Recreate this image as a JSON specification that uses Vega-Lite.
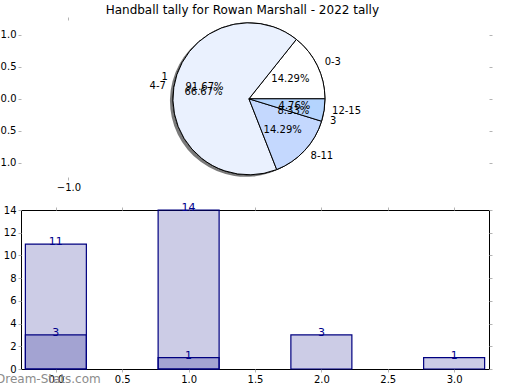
{
  "$schema": "https://vega.github.io/schema/vega-lite/v6.json",
  "padding": {"left": -9, "top": 3, "right": 0, "bottom": 0},
  "bounds": "flush",
  "spacing": 33,
  "title": {"text": "Handball tally for Rowan Marshall - 2022 tally", "font": "DejaVu Sans", "fontSize": 12, "fontWeight": "normal", "color": "#000000", "offset": 0, "anchor": "middle"},
  "config": {
    "font": "DejaVu Sans",
    "axis": {"labelFont": "DejaVu Sans", "labelFontSize": 10, "labelColor": "#000000", "tickColor": "#b4b4b4", "tickSize": 3, "domain": false, "grid": false, "title": null},
    "text": {"font": "DejaVu Sans", "fontSize": 10}
  },
  "vconcat": [
    {
      "width": 468,
      "height": 157,
      "view": {"stroke": null},
      "resolve": {"scale": {"theta": "independent", "color": "independent"}, "axis": {"x": "independent", "y": "independent"}},
      "layer": [
        {
          "data": {"values": [
            {"label": "1", "v": 11, "pct": "91.67%", "i": 0},
            {"label": "3", "v": 1, "pct": "8.33%", "i": 1}
          ]},
          "encoding": {
            "x": {"datum": 0, "type": "quantitative", "scale": {"domain": [-1.263, 1.33], "nice": false, "zero": false}, "axis": {"orient": "bottom", "values": [-1], "format": ".1f", "title": null}},
            "y": {"datum": 0, "type": "quantitative", "scale": {"domain": [-1.22, 1.23], "nice": false, "zero": false}, "axis": {"orient": "left", "values": [-1, -0.5, 0, 0.5, 1], "format": ".1f", "title": null}},
            "theta": {"field": "v", "type": "quantitative", "stack": true, "scale": {"range": [1.5708, -4.7124]}},
            "order": {"field": "i", "type": "quantitative"},
            "detail": {"field": "label", "type": "nominal"}
          },
          "layer": [
            {"mark": {"type": "arc", "outerRadius": 76, "xOffset": -3, "yOffset": 2, "opacity": 0.75}, "encoding": {"color": {"value": "#4d4d4d"}}},
            {"mark": {"type": "arc", "outerRadius": 76, "stroke": "#000000", "strokeWidth": 1}, "encoding": {"color": {"field": "label", "type": "nominal", "scale": {"domain": ["1", "3"], "range": ["#eaf2fe", "#b4d4fe"]}, "legend": null}}}
          ]
        },
        {
          "data": {"values": [
            {"label": "0-3", "v": 3, "pct": "14.29%", "i": 0},
            {"label": "4-7", "v": 14, "pct": "66.67%", "i": 1},
            {"label": "8-11", "v": 3, "pct": "14.29%", "i": 2},
            {"label": "12-15", "v": 1, "pct": "4.76%", "i": 3}
          ]},
          "encoding": {
            "x": {"datum": 0, "type": "quantitative", "scale": {"domain": [-1.263, 1.33], "nice": false, "zero": false}, "axis": {"orient": "top", "values": [-1], "labels": false, "title": null}},
            "y": {"datum": 0, "type": "quantitative", "scale": {"domain": [-1.22, 1.23], "nice": false, "zero": false}, "axis": {"orient": "right", "values": [-1, -0.5, 0, 0.5, 1], "labels": false, "title": null}},
            "theta": {"field": "v", "type": "quantitative", "stack": true, "scale": {"range": [1.5708, -4.7124]}},
            "order": {"field": "i", "type": "quantitative"},
            "detail": {"field": "label", "type": "nominal"}
          },
          "layer": [
            {"mark": {"type": "arc", "outerRadius": 76, "stroke": "#000000", "strokeWidth": 1}, "encoding": {"color": {"field": "label", "type": "nominal", "scale": {"domain": ["0-3", "4-7", "8-11", "12-15"], "range": ["#ffffff", "#eaf1fe", "#c4d8fe", "#b4d4fe"]}, "legend": null}}}
          ]
        },
        {
          "data": {"values": [
            {"label": "1", "v": 11, "pct": "91.67%", "i": 0},
            {"label": "3", "v": 1, "pct": "8.33%", "i": 1}
          ]},
          "encoding": {
            "x": {"datum": 0, "type": "quantitative", "scale": {"domain": [-1.263, 1.33], "nice": false, "zero": false}, "axis": null},
            "y": {"datum": 0, "type": "quantitative", "scale": {"domain": [-1.22, 1.23], "nice": false, "zero": false}, "axis": null},
            "theta": {"field": "v", "type": "quantitative", "stack": true, "scale": {"range": [1.5708, -4.7124]}},
            "order": {"field": "i", "type": "quantitative"},
            "detail": {"field": "label", "type": "nominal"},
            "color": {"value": "#000000"}
          },
          "layer": [
            {"mark": {"type": "text", "radius": 46, "align": "center", "baseline": "middle"}, "encoding": {"text": {"field": "pct", "type": "nominal"}}},
            {"mark": {"type": "text", "radius": 84, "align": "left", "baseline": "middle"}, "encoding": {"text": {"condition": {"test": "datum.label !== '1'", "field": "label", "type": "nominal"}, "value": ""}}},
            {"mark": {"type": "text", "radius": 84, "align": "right", "baseline": "middle"}, "encoding": {"text": {"condition": {"test": "datum.label === '1'", "field": "label", "type": "nominal"}, "value": ""}}}
          ]
        },
        {
          "data": {"values": [
            {"label": "0-3", "v": 3, "pct": "14.29%", "i": 0},
            {"label": "4-7", "v": 14, "pct": "66.67%", "i": 1},
            {"label": "8-11", "v": 3, "pct": "14.29%", "i": 2},
            {"label": "12-15", "v": 1, "pct": "4.76%", "i": 3}
          ]},
          "encoding": {
            "x": {"datum": 0, "type": "quantitative", "scale": {"domain": [-1.263, 1.33], "nice": false, "zero": false}, "axis": null},
            "y": {"datum": 0, "type": "quantitative", "scale": {"domain": [-1.22, 1.23], "nice": false, "zero": false}, "axis": null},
            "theta": {"field": "v", "type": "quantitative", "stack": true, "scale": {"range": [1.5708, -4.7124]}},
            "order": {"field": "i", "type": "quantitative"},
            "detail": {"field": "label", "type": "nominal"},
            "color": {"value": "#000000"}
          },
          "layer": [
            {"mark": {"type": "text", "radius": 46, "align": "center", "baseline": "middle"}, "encoding": {"text": {"field": "pct", "type": "nominal"}}},
            {"mark": {"type": "text", "radius": 84, "align": "left", "baseline": "middle"}, "encoding": {"text": {"condition": {"test": "datum.label !== '4-7'", "field": "label", "type": "nominal"}, "value": ""}}},
            {"mark": {"type": "text", "radius": 84, "align": "right", "baseline": "middle"}, "encoding": {"text": {"condition": {"test": "datum.label === '4-7'", "field": "label", "type": "nominal"}, "value": ""}}}
          ]
        }
      ]
    },
    {
      "width": 468,
      "height": 159,
      "view": {"stroke": "#000000", "strokeWidth": 1},
      "title": {"text": "Dream-Stats.com", "orient": "bottom", "anchor": "start", "frame": "group", "fontSize": 12, "fontWeight": "normal", "color": "#8c8c8c", "dx": -25, "offset": -10},
      "data": {"values": [
        {"pos": 0, "series": "all", "n": 11},
        {"pos": 1, "series": "all", "n": 14},
        {"pos": 2, "series": "all", "n": 3},
        {"pos": 3, "series": "all", "n": 1},
        {"pos": 0, "series": "sub", "n": 3},
        {"pos": 1, "series": "sub", "n": 1}
      ]},
      "resolve": {"axis": {"x": "independent", "y": "independent"}},
      "layer": [
        {
          "mark": {"type": "bar", "width": 61, "fill": "#000080", "fillOpacity": 0.2, "stroke": "#000080", "strokeWidth": 1.2},
          "encoding": {
            "x": {"field": "pos", "type": "quantitative", "scale": {"domain": [-0.225, 3.225], "nice": false, "zero": false}, "axis": {"orient": "bottom", "values": [0, 0.5, 1, 1.5, 2, 2.5, 3], "format": ".1f", "title": null}},
            "y": {"field": "n", "type": "quantitative", "stack": null, "scale": {"domain": [0, 14], "nice": false}, "axis": {"orient": "left", "values": [0, 2, 4, 6, 8, 10, 12, 14], "format": "d", "title": null}},
            "detail": {"field": "series", "type": "nominal"}
          }
        },
        {
          "mark": {"type": "text", "baseline": "alphabetic", "align": "center", "dy": 1, "color": "#00008b", "fontSize": 11},
          "encoding": {
            "x": {"field": "pos", "type": "quantitative", "scale": {"domain": [-0.225, 3.225], "nice": false, "zero": false}, "axis": {"orient": "top", "values": [0, 0.5, 1, 1.5, 2, 2.5, 3], "labels": false, "title": null}},
            "y": {"field": "n", "type": "quantitative", "stack": null, "scale": {"domain": [0, 14], "nice": false}, "axis": {"orient": "right", "values": [0, 2, 4, 6, 8, 10, 12, 14], "labels": false, "title": null}},
            "text": {"field": "n", "type": "quantitative"}
          }
        }
      ]
    }
  ]
}
